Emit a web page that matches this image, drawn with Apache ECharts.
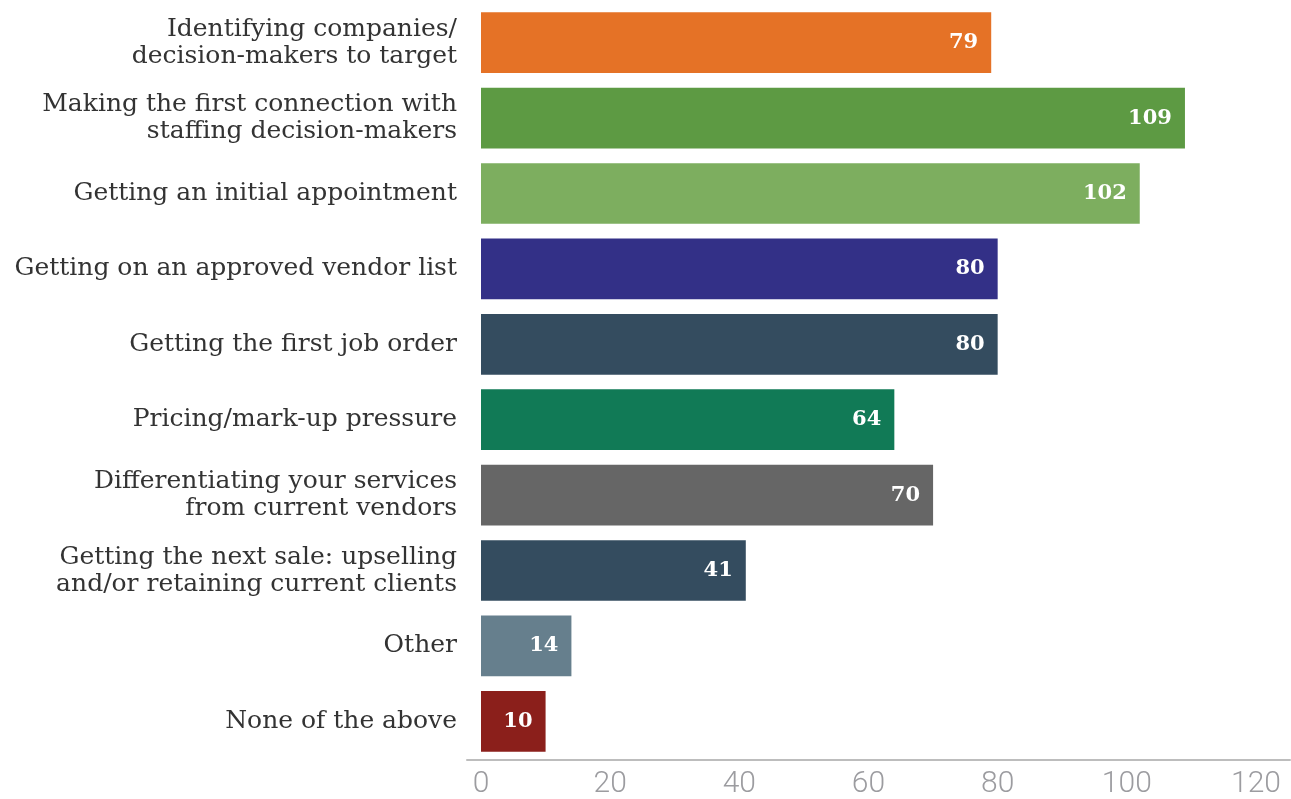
<!DOCTYPE html>
<html>
<head>
<meta charset="utf-8">
<script src="https://cdn.jsdelivr.net/npm/echarts@6/dist/echarts.min.js"></script>
<style>
html,body{margin:0;padding:0;background:#fff;}
#chart{width:1291px;height:799px;}
</style>
</head>
<body>
<div id="chart"></div>
<script>
const categories = [
  "Identifying companies/\ndecision-makers to target",
  "Making the first connection with\nstaffing decision-makers",
  "Getting an initial appointment",
  "Getting on an approved vendor list",
  "Getting the first job order",
  "Pricing/mark-up pressure",
  "Differentiating your services\nfrom current vendors",
  "Getting the next sale: upselling\nand/or retaining current clients",
  "Other",
  "None of the above"
];
const values = [79, 109, 102, 80, 80, 64, 70, 41, 14, 10];
const barColors = ["#E57226", "#5D9A43", "#7DAE5F", "#333087", "#344C5F", "#117A56", "#666666", "#344C5F", "#667F8D", "#8B1F1B"];
const xTicks = [0, 20, 40, 60, 80, 100, 120];

const chart = echarts.init(document.getElementById('chart'));
chart.setOption({
  animation: false,
  backgroundColor: '#ffffff',
  grid: [
    {left: 481, right: 35, top: 5, bottom: 39, containLabel: false},
    {left: 467, right: 1, top: 5, bottom: 39, containLabel: false}
  ],
  xAxis: [
    {
      type: 'value', gridIndex: 0,
      min: xTicks[0], max: xTicks[xTicks.length - 1], interval: 20,
      axisLine: {show: false},
      axisTick: {show: false},
      splitLine: {show: false},
      axisLabel: {color: '#9c9ca0', fontFamily: 'Roboto', fontSize: 30, fontWeight: 300, margin: 10}
    },
    {
      type: 'value', gridIndex: 1, min: 0, max: 1,
      axisLine: {show: true, lineStyle: {color: '#bdbdbd', width: 2}},
      axisTick: {show: false}, axisLabel: {show: false}, splitLine: {show: false}
    }
  ],
  yAxis: [
    {
      type: 'category', gridIndex: 0, data: categories, inverse: true,
      axisLine: {show: false},
      axisTick: {show: false},
      axisLabel: {color: '#333333', fontFamily: 'DejaVu Serif', fontSize: 25, lineHeight: 27, margin: 24, align: 'right'}
    },
    {type: 'category', gridIndex: 1, show: false, data: ['']}
  ],
  series: [{
    type: 'bar', xAxisIndex: 0, yAxisIndex: 0,
    barCategoryGap: '19.5%',
    data: values.map((v, i) => ({value: v, itemStyle: {color: barColors[i]}})),
    label: {
      show: true, position: 'insideRight', distance: 13,
      color: '#ffffff', fontFamily: 'DejaVu Serif', fontWeight: 'bold', fontSize: 21
    }
  }]
});
</script>
</body>
</html>
